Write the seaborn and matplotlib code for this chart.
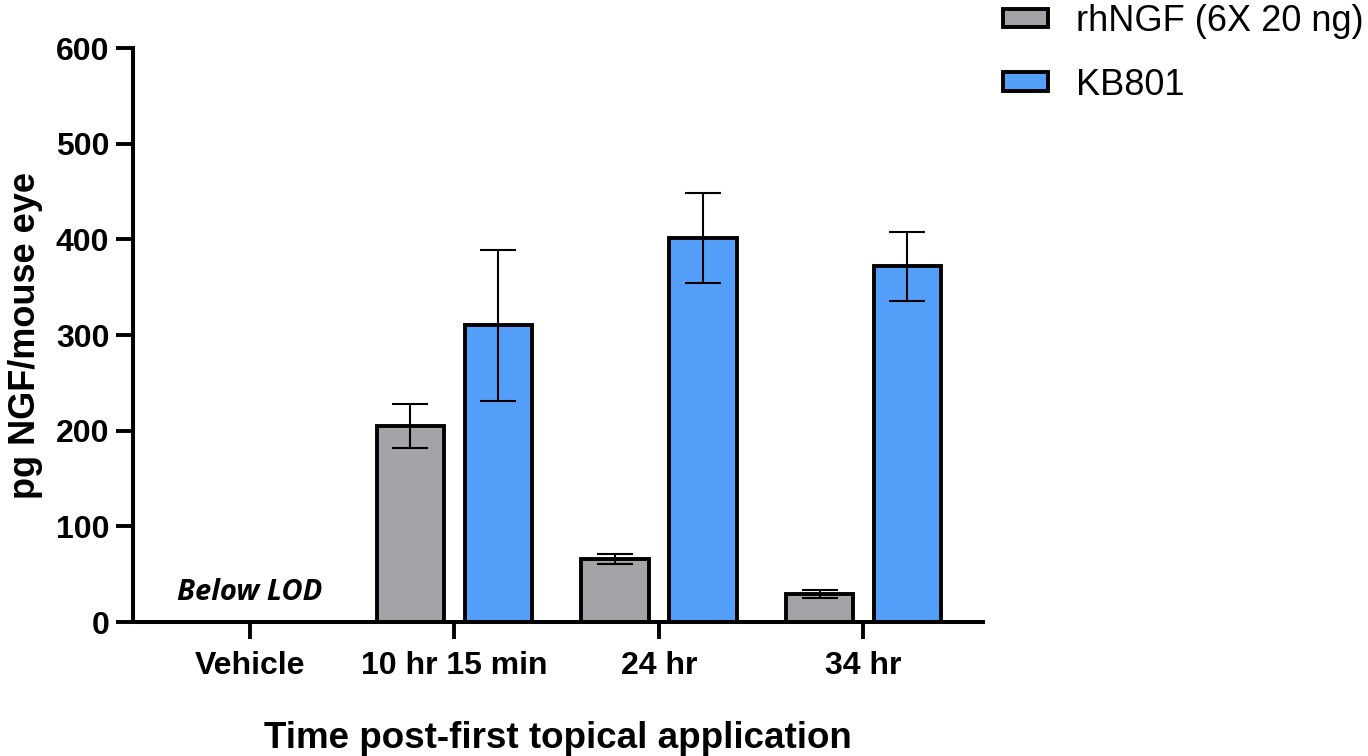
import numpy as np
import pandas as pd
import matplotlib
matplotlib.use("Agg")
import matplotlib.pyplot as plt
import matplotlib.patches as mpatches
import seaborn as sns

# data (pg NGF / mouse eye, mean and error)
timePoints = ["Vehicle", "10 hr 15 min", "24 hr", "34 hr"]
groups = ["rhNGF (6X 20 ng)", "KB801"]
rhngfMean = [np.nan, 205, 66, 29]
rhngfErr = [np.nan, 23, 5, 4]
kb801Mean = [np.nan, 310, 401, 372]
kb801Err = [np.nan, 79, 47, 36]

groupColors = {"rhNGF (6X 20 ng)": "#A3A3A8", "KB801": "#539FFA"}

df = pd.DataFrame({
    "time": timePoints * 2,
    "group": [groups[0]] * 4 + [groups[1]] * 4,
    "value": rhngfMean + kb801Mean,
    "err": rhngfErr + kb801Err,
})

sns.set_style("ticks")
plt.rcParams['font.family'] = ['Liberation Sans', 'DejaVu Sans']
plt.rcParams['text.color'] = 'black'
plt.rcParams['axes.labelcolor'] = 'black'
plt.rcParams['xtick.color'] = 'black'
plt.rcParams['ytick.color'] = 'black'
plt.rcParams['axes.edgecolor'] = 'black'

fig = plt.figure(figsize=(13.68, 7.56), dpi=100)
ax = fig.add_axes([0.0972, 0.1772, 0.6213, 0.7593])

sns.barplot(data=df, x="time", y="value", hue="group", order=timePoints,
            hue_order=groups, palette=groupColors, saturation=1, width=0.86, gap=0.23,
            errorbar=None, edgecolor="black", linewidth=2.8, legend=False, ax=ax)

# error bars: match each bar to its category by x position (Vehicle has no bars)
for container, g in zip(ax.containers, groups):
    sub = df[df["group"] == g].set_index("time")
    for bar in container:
        xc = bar.get_x() + bar.get_width() / 2
        cat = timePoints[int(round(xc))]
        mean, err = sub.loc[cat, "value"], sub.loc[cat, "err"]
        if np.isnan(mean):
            continue
        ax.errorbar(xc, mean, yerr=err, color="black", elinewidth=1.5,
                    capsize=13, capthick=1.5, zorder=5)

ax.text(0, 31, "Below LOD", ha="center", va="center", fontsize=21,
        fontweight="bold", fontstyle="italic", family=["Open Sans", "DejaVu Sans"])

ax.set_ylim(0, 600)
ax.set_xlim(-0.572, 3.584)
ax.set_yticks(np.arange(0, 601, 100))
ax.tick_params(axis="both", which="major", direction="out", length=12, width=2.8,
               labelsize=23)
for lbl in ax.get_xticklabels() + ax.get_yticklabels():
    lbl.set_fontweight("bold")
ax.tick_params(axis="x", pad=9)
ax.tick_params(axis="y", pad=5)

for side in ["left", "bottom"]:
    ax.spines[side].set_linewidth(2.9)
sns.despine(ax=ax)

ax.set_xlabel("Time post-first topical application", fontsize=26.5,
              fontweight="bold", labelpad=29)
ax.set_ylabel("pg NGF/mouse eye", fontsize=26, fontweight="bold", labelpad=9)

handles = [mpatches.Patch(facecolor=groupColors[g], edgecolor="black",
                          linewidth=2.8, label=g) for g in groups]
fig.legend(handles=handles, loc="upper left", bbox_to_anchor=(0.733, 0.995),
           frameon=False, fontsize=26, handlelength=1.25, handleheight=0.42,
           handletextpad=0.78, labelspacing=0.8, borderpad=0, borderaxespad=0)

fig.savefig("out.png", dpi=100)
